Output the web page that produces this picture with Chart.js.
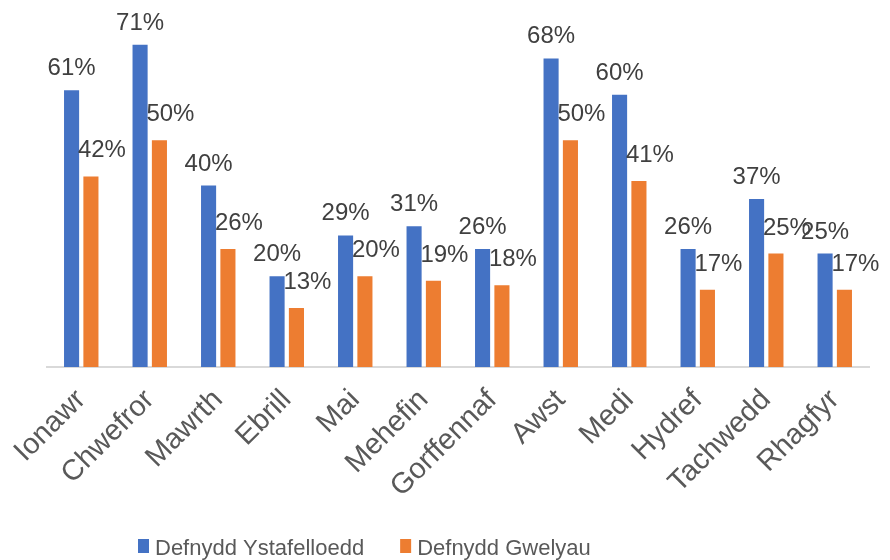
<!DOCTYPE html>
<html>
<head>
<meta charset="utf-8">
<script src="https://cdn.jsdelivr.net/npm/chart.js@4"></script>
<style>
  html, body { margin: 0; padding: 0; background: #fff; }
  #wrap { width: 890px; height: 560px; }
</style>
</head>
<body>
<div id="wrap"><canvas id="usageChart" width="890" height="560"></canvas></div>
<script>
const months = ['Ionawr', 'Chwefror', 'Mawrth', 'Ebrill', 'Mai', 'Mehefin', 'Gorffennaf', 'Awst', 'Medi', 'Hydref', 'Tachwedd', 'Rhagfyr'];
const roomUse = [61, 71, 40, 20, 29, 31, 26, 68, 60, 26, 37, 25];
const bedUse = [42, 50, 26, 13, 20, 19, 18, 50, 41, 17, 25, 17];
const seriesNames = ['Defnydd Ystafelloedd', 'Defnydd Gwelyau'];

const FONT = "'Liberation Sans', Arial, sans-serif";

// draws the "NN%" text above each bar, Excel style
const barLabels = {
    id: 'barLabels',
    afterDatasetsDraw(chart) {
        const ctx = chart.ctx;
        ctx.save();
        ctx.font = '24px ' + FONT;
        ctx.fillStyle = '#404040';
        ctx.textAlign = 'center';
        ctx.textBaseline = 'alphabetic';
        chart.data.datasets.forEach((ds, i) => {
            const meta = chart.getDatasetMeta(i);
            const shift = i === 0 ? 0 : 11;
            const gap = i === 0 ? 15 : 19;
            meta.data.forEach((bar, j) => {
                ctx.fillText(ds.data[j] + '%', bar.x + shift, bar.y - gap);
            });
        });
        ctx.restore();
    }
};

// legend sits left of centre in the original, so it is drawn by hand
const bottomLegend = {
    id: 'bottomLegend',
    afterDraw(chart) {
        const ctx = chart.ctx;
        ctx.save();
        ctx.font = '22px ' + FONT;
        ctx.textBaseline = 'alphabetic';
        let x = 138;
        chart.data.datasets.forEach(ds => {
            ctx.fillStyle = ds.backgroundColor;
            ctx.fillRect(x, 539, 11, 14);
            ctx.fillStyle = '#595959';
            ctx.fillText(ds.label, x + 17, 555);
            x += 17 + ctx.measureText(ds.label).width + 36;
        });
        ctx.restore();
    }
};

const ctx = document.getElementById('usageChart').getContext('2d');
const chart = new Chart(ctx, {
    type: 'bar',
    data: {
        labels: months,
        datasets: [
            { label: seriesNames[0], data: roomUse, backgroundColor: '#4472C4' },
            { label: seriesNames[1], data: bedUse, backgroundColor: '#ED7D31' }
        ]
    },
    options: {
        responsive: false,
        animation: false,
        devicePixelRatio: 1,
        layout: { padding: { left: 47, right: 21, top: 4, bottom: 0 } },
        datasets: { bar: { categoryPercentage: 0.565, barPercentage: 0.78 } },
        scales: {
            x: {
                grid: { display: false, drawTicks: false },
                border: { display: true, color: '#D9D9D9', width: 2 },
                ticks: {
                    color: '#595959',
                    font: { family: FONT, size: 29 },
                    minRotation: 45,
                    maxRotation: 45,
                    padding: 16
                },
                afterFit(scale) {
                    scale.height = 193;
                    scale.paddingLeft = 0;
                    scale.paddingRight = 0;
                }
            },
            y: {
                display: false,
                min: 0,
                max: 80
            }
        },
        plugins: {
            legend: { display: false },
            tooltip: { enabled: false }
        }
    },
    plugins: [barLabels, bottomLegend]
});
</script>
</body>
</html>
